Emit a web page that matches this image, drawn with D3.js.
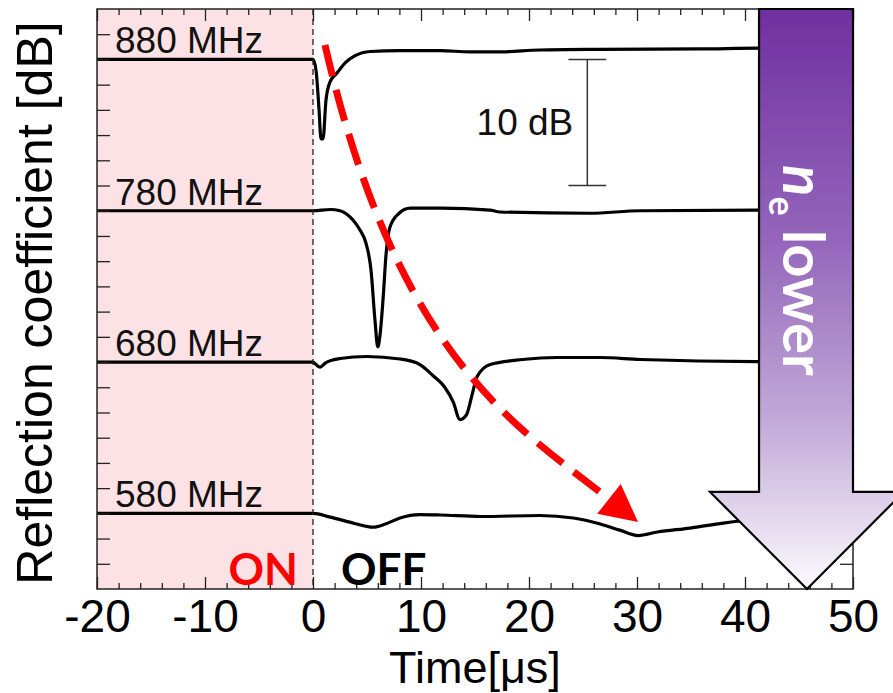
<!DOCTYPE html>
<html><head><meta charset="utf-8">
<script src="https://cdn.jsdelivr.net/npm/d3@7"></script>
<style>body{margin:0;background:#fff}svg{display:block}</style>
</head><body>
<svg id="chart" width="893" height="693"></svg>
<script>
// ---------- data ----------
const xTickValues = [-20, -10, 0, 10, 20, 30, 40, 50];
const seriesLabels = ["880 MHz", "780 MHz", "680 MHz", "580 MHz"];
const seriesOffsets = [42, 30, 18, 6]; // dB offset of each trace

const time880 = [-20, -10, -3, 0, 0.28, 0.56, 0.74, 0.93, 1.2, 1.57, 2.2, 3.0, 3.9, 5.3, 8, 11.8, 14.5, 17.3, 21, 26.6, 35.8, 41.4, 50];
const refl880 = [0, 0, 0, 0, -0.87, -4.0, -6.3, -6.3, -3.25, -1.8, -1.1, -0.25, 0.3, 0.63, 0.7, 0.7, 0.6, 0.6, 0.75, 0.8, 0.83, 0.9, 0.9];

const time780 = [-20, -10, 0, 1.6, 2.5, 3.1, 3.7, 4.35, 4.9, 5.37, 5.74, 6.0, 6.2, 6.5, 6.76, 7.1, 7.9, 9.0, 11.8, 16.4, 17.3, 25.6, 30.3, 41.4, 50];
const refl780 = [0, 0, 0, 0.1, 0, -0.26, -0.74, -1.53, -2.56, -4.7, -8.7, -10.8, -9.9, -6.85, -3.5, -1.37, -0.26, 0.2, 0.2, 0.05, -0.1, -0.2, 0, 0.05, 0.05];

const time680 = [-20, -10, 0, 0.28, 0.65, 1.2, 2.5, 5.0, 8.05, 9.9, 11.1, 12.2, 13.0, 13.6, 14.2, 14.7, 15.2, 16.4, 19.4, 22.6, 26.6, 30.3, 41.1, 50];
const refl680 = [0, 0, 0, -0.2, -0.4, -0.04, 0.28, 0.44, 0.24, -0.2, -1.07, -2.0, -3.2, -4.56, -4.2, -2.7, -1.15, -0.2, 0.2, 0.36, 0.36, 0.2, 0.04, 0.04];

const time580 = [-20, -10, 0, 1.6, 3.4, 4.8, 5.6, 6.7, 8.05, 9.9, 11.8, 15.5, 21, 24.1, 26.6, 28.4, 30.1, 31.9, 34.9, 38, 41.4, 45, 50];
const refl580 = [0, 0, 0, -0.3, -0.7, -1.0, -1.1, -0.85, -0.37, -0.1, -0.13, -0.25, -0.17, -0.37, -0.85, -1.33, -1.76, -1.48, -1.17, -0.77, -0.45, -0.2, -0.1];

const seriesTimes = [time880, time780, time680, time580];
const seriesRefl = [refl880, refl780, refl680, refl580];

// annotations in data units (time µs, dB)
const onRegion = [-20, 0];
const scaleBarT = 25.4, scaleBarTop = 42, scaleBarBottom = 32, scaleBarCap = 1.75;
const trendT = [1.11, 7.78, 18.7, 27.4], trendDb = [43.14, 18.4, 13.0, 7.14];
const trendTip = [30.1, 5.31];
const bigArrowT = {shaftL: 41.3, shaftR: 50, headL: 36.76, headR: 54.7, tip: 45.74};
const bigArrowDb = {top: 46, headBase: 7.7, tip: 0};

// ---------- layout ----------
const svg = d3.select("#chart");
const pL = 97, pR = 853, pT = 9, pB = 589;
const x = d3.scaleLinear().domain([-20, 50]).range([pL, pR]);
const y = d3.scaleLinear().domain([0, 46]).range([pB, pT]);
const sans = "'Liberation Sans', Arial, sans-serif";
const boldFont = "Lato, 'Open Sans', sans-serif";

// ON region
svg.append("rect").attr("x", x(onRegion[0])).attr("y", pT)
  .attr("width", x(onRegion[1]) - x(onRegion[0])).attr("height", pB - pT)
  .attr("fill", "#fde2e5");

// traces
const line = d3.line().x(d => x(d[0])).y(d => y(d[1])).curve(d3.curveMonotoneX);
seriesTimes.forEach((ts, i) => {
  const pts = ts.map((t, j) => [t, seriesRefl[i][j] + seriesOffsets[i]]);
  svg.append("path").attr("d", line(pts)).attr("fill", "none")
    .attr("stroke", "#000").attr("stroke-width", 3.2).attr("stroke-linejoin", "round");
  svg.append("text").attr("x", pL + 18).attr("y", y(seriesOffsets[i]) - 6)
    .attr("font-family", sans).attr("font-size", 37).attr("fill", "#111")
    .text(seriesLabels[i]);
});

// dashed line at t=0
svg.append("line").attr("x1", x(0)).attr("x2", x(0)).attr("y1", pT).attr("y2", pB)
  .attr("stroke", "#222").attr("stroke-width", 1.3).attr("stroke-dasharray", "6,4");

// scale bar
const sb = svg.append("g").attr("stroke", "#333").attr("stroke-width", 1.5);
sb.append("line").attr("x1", x(scaleBarT)).attr("x2", x(scaleBarT)).attr("y1", y(scaleBarTop)).attr("y2", y(scaleBarBottom));
[scaleBarTop, scaleBarBottom].forEach(v => sb.append("line")
  .attr("x1", x(scaleBarT - scaleBarCap)).attr("x2", x(scaleBarT + scaleBarCap))
  .attr("y1", y(v)).attr("y2", y(v)));
svg.append("text").attr("x", x(scaleBarT) - 14).attr("y", y((scaleBarTop + scaleBarBottom) / 2) + 13)
  .attr("text-anchor", "end").attr("font-family", sans).attr("font-size", 37).attr("fill", "#111").text("10 dB");

// red dashed trend arrow
const p = d3.path();
p.moveTo(x(trendT[0]), y(trendDb[0]));
p.bezierCurveTo(x(trendT[1]), y(trendDb[1]), x(trendT[2]), y(trendDb[2]), x(trendT[3]), y(trendDb[3]));
svg.append("path").attr("d", p.toString()).attr("fill", "none").attr("stroke", "#ff0000")
  .attr("stroke-width", 7).attr("stroke-dasharray", "32,14");
{
  const ex = x(trendT[3]), ey = y(trendDb[3]);
  const tx = x(trendTip[0]), ty = y(trendTip[1]);
  const dx = tx - ex, dy = ty - ey, L = Math.hypot(dx, dy);
  const nx = -dy / L, ny = dx / L, hw = 19;
  svg.append("polygon").attr("points",
    [[tx, ty], [ex + nx * hw, ey + ny * hw], [ex - nx * hw, ey - ny * hw]].map(d => d.join(",")).join(" "))
    .attr("fill", "#ff0000");
}

// axes
function styleAxis(g) { g.select(".domain").remove(); g.selectAll("line").attr("stroke", "#222").attr("stroke-width", 1.3); }
const minorX = d3.range(-20, 51, 2).filter(v => v % 10 !== 0);
const yTickVals = d3.range(2, 46, 2);
svg.append("g").attr("transform", `translate(0,${pB})`)
  .call(d3.axisBottom(x).tickValues(xTickValues).tickSize(-12).tickPadding(10).tickFormat(d => String(d)))
  .call(styleAxis)
  .call(g => g.selectAll("text").attr("font-family", sans).attr("font-size", 46).attr("fill", "#000"));
svg.append("g").attr("transform", `translate(0,${pB})`)
  .call(d3.axisBottom(x).tickValues(minorX).tickSize(-6).tickFormat("")).call(styleAxis);
svg.append("g").attr("transform", `translate(0,${pT})`)
  .call(d3.axisTop(x).tickValues(xTickValues).tickSize(-12).tickFormat("")).call(styleAxis);
svg.append("g").attr("transform", `translate(0,${pT})`)
  .call(d3.axisTop(x).tickValues(minorX).tickSize(-6).tickFormat("")).call(styleAxis);
svg.append("g").attr("transform", `translate(${pL},0)`)
  .call(d3.axisLeft(y).tickValues(yTickVals).tickSize(-13).tickFormat("")).call(styleAxis);
svg.append("g").attr("transform", `translate(${pR},0)`)
  .call(d3.axisRight(y).tickValues(yTickVals).tickSize(-13).tickFormat("")).call(styleAxis);

// frame
svg.append("rect").attr("x", pL).attr("y", pT).attr("width", pR - pL).attr("height", pB - pT)
  .attr("fill", "none").attr("stroke", "#222").attr("stroke-width", 1.5);

// axis titles
svg.append("text").attr("x", (pL + pR) / 2).attr("y", 683).attr("text-anchor", "middle")
  .attr("font-family", sans).attr("font-size", 45).attr("fill", "#000").text("Time[μs]");
svg.append("text").attr("transform", `translate(52,${(pT + pB) / 2 + 4}) rotate(-90)`).attr("text-anchor", "middle")
  .attr("font-family", sans).attr("font-size", 50).attr("fill", "#000").text("Reflection coefficient [dB]");

// ON / OFF
svg.append("text").attr("x", x(0) - 15).attr("y", 585).attr("text-anchor", "end")
  .attr("font-family", boldFont).attr("font-weight", 700).attr("font-size", 44).attr("fill", "#ff0000").text("ON");
svg.append("text").attr("x", x(0) + 28).attr("y", 585)
  .attr("font-family", boldFont).attr("font-weight", 700).attr("font-size", 44).attr("fill", "#000").text("OFF");

// big purple arrow
const defs = svg.append("defs");
const grad = defs.append("linearGradient").attr("id", "pg").attr("gradientUnits", "userSpaceOnUse")
  .attr("x1", 0).attr("x2", 0).attr("y1", y(bigArrowDb.top)).attr("y2", y(bigArrowDb.tip));
[[0, "#7030a0"], [0.4, "#9466bb"], [0.72, "#c4acd9"], [1, "#fcfafd"]].forEach(s =>
  grad.append("stop").attr("offset", s[0]).attr("stop-color", s[1]));
const A = bigArrowT, B = bigArrowDb;
const arrowPts = [
  [A.shaftL, B.top], [A.shaftR, B.top], [A.shaftR, B.headBase], [A.headR, B.headBase],
  [A.tip, B.tip], [A.headL, B.headBase], [A.shaftL, B.headBase]
].map(d => [x(d[0]), y(d[1])]);
svg.append("polygon").attr("points", arrowPts.map(d => d.join(",")).join(" "))
  .attr("fill", "url(#pg)").attr("stroke", "#000").attr("stroke-width", 2.2).attr("stroke-linejoin", "miter");
const nt = svg.append("text").attr("transform", `translate(783,165) rotate(90)`)
  .attr("font-family", boldFont).attr("font-weight", 700).attr("font-size", 58).attr("fill", "#fff");
nt.append("tspan").attr("font-style", "italic").text("n");
nt.append("tspan").attr("font-size", 36).attr("dy", 14).text("e");
nt.append("tspan").attr("dy", -14).text(" lower");
</script>
</body></html>
